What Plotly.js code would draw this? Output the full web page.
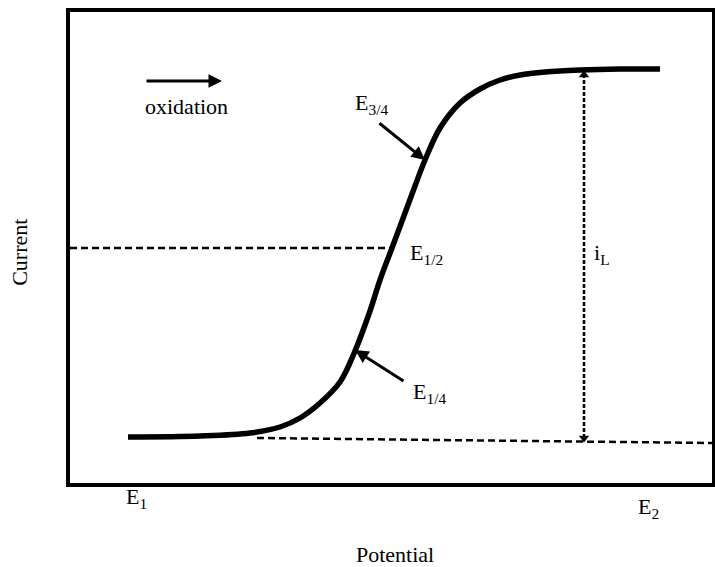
<!DOCTYPE html>
<html>
<head>
<meta charset="utf-8">
<script src="https://cdn.plot.ly/plotly-3.0.1.min.js"></script>
<style>html,body{margin:0;padding:0;background:#fff;}#chart{width:715px;height:567px;}</style>
</head>
<body>
<div id="chart"></div>
<script>
// Potential (arbitrary units) and current (arbitrary units)
var potential = [58, 130, 180, 210, 230, 250, 270, 285, 300, 310, 322, 335, 345, 355, 370, 390, 410, 430, 450, 475, 510, 550, 590];
var current   = [46, 47, 50, 56, 65, 80, 101, 132, 172, 203, 235, 270, 297, 323, 355, 380, 394, 403, 408, 411, 413, 414, 414];

var halfLevelX = [0, 322];
var halfLevelY = [235, 235];
var baseLineX = [187, 642];
var baseLineY = [45, 40];
var limitX = [514, 514];
var limitY = [45, 408];

var E14 = [285, 133];
var E12 = [322, 235];
var E34 = [355, 323];

var xRange = [0, 642];
var yRange = [0, 471];

var font = {family: 'Liberation Serif, Times New Roman, serif', size: 22, color: '#000'};

var traces = [
  {x: halfLevelX, y: halfLevelY, mode: 'lines', line: {color: '#000', width: 2.5, dash: '7px,4px'}, hoverinfo: 'skip'},
  {x: baseLineX, y: baseLineY, mode: 'lines', line: {color: '#000', width: 2.5, dash: '7px,4px'}, hoverinfo: 'skip'},
  {x: limitX, y: limitY, mode: 'lines', line: {color: '#000', width: 2.5, dash: '4px,2px'}, hoverinfo: 'skip'},
  {x: [limitX[0]], y: [limitY[1]], mode: 'markers', marker: {symbol: 'triangle-up', size: 9, color: '#000'}, hoverinfo: 'skip'},
  {x: [limitX[0]], y: [limitY[0]], mode: 'markers', marker: {symbol: 'triangle-down', size: 9, color: '#000'}, hoverinfo: 'skip'},
  {x: potential, y: current, mode: 'lines', line: {color: '#000', width: 5.5, shape: 'spline', smoothing: 1}, hoverinfo: 'skip'}
];

var ann = [
  {x: 152, y: 402, ax: 75, ay: 402, xref: 'x', yref: 'y', axref: 'x', ayref: 'y', text: '', showarrow: true, arrowhead: 2, arrowsize: 0.9, arrowwidth: 3, arrowcolor: '#000'},
  {x: 116, y: 377, xref: 'x', yref: 'y', text: 'oxidation', showarrow: false, font: font},
  {x: E34[0], y: E34[1], ax: 308, ay: 361, xref: 'x', yref: 'y', axref: 'x', ayref: 'y', text: '', showarrow: true, arrowhead: 2, arrowsize: 0.9, arrowwidth: 3, arrowcolor: '#000'},
  {x: 283, y: 379, xref: 'x', yref: 'y', xanchor: 'left', text: 'E<sub>3/4</sub>', showarrow: false, font: font},
  {x: 338, y: 229, xref: 'x', yref: 'y', xanchor: 'left', text: 'E<sub>1/2</sub>', showarrow: false, font: font},
  {x: E14[0], y: E14[1], ax: 335, ay: 101, xref: 'x', yref: 'y', axref: 'x', ayref: 'y', text: '', showarrow: true, arrowhead: 2, arrowsize: 0.9, arrowwidth: 3, arrowcolor: '#000'},
  {x: 341, y: 90, xref: 'x', yref: 'y', xanchor: 'left', text: 'E<sub>1/4</sub>', showarrow: false, font: font},
  {x: 522, y: 229, xref: 'x', yref: 'y', xanchor: 'left', text: 'i<sub>L</sub>', showarrow: false, font: font},
  {x: 0.084, y: -0.066, xref: 'paper', yref: 'paper', xanchor: 'left', text: 'E<sub>1</sub>', showarrow: false, font: font},
  {x: 0.881, y: -0.086, xref: 'paper', yref: 'paper', xanchor: 'left', text: 'E<sub>2</sub>', showarrow: false, font: font},
  {x: 0.506, y: -0.183, xref: 'paper', yref: 'paper', text: 'Potential', showarrow: false, font: font},
  {x: -0.101, y: 0.49, xref: 'paper', yref: 'paper', text: 'Current', textangle: -90, showarrow: false, font: font}
];

var layout = {
  width: 715, height: 567,
  margin: {l: 70, r: 3, t: 12, b: 84},
  paper_bgcolor: '#fff', plot_bgcolor: '#fff',
  showlegend: false,
  xaxis: {range: xRange, showgrid: false, zeroline: false, showticklabels: false, ticks: '', showline: true, mirror: true, linecolor: '#000', linewidth: 4},
  yaxis: {range: yRange, showgrid: false, zeroline: false, showticklabels: false, ticks: '', showline: true, mirror: true, linecolor: '#000', linewidth: 4},
  annotations: ann,
  font: font
};

Plotly.newPlot('chart', traces, layout, {displayModeBar: false, staticPlot: true});
</script>
</body>
</html>
